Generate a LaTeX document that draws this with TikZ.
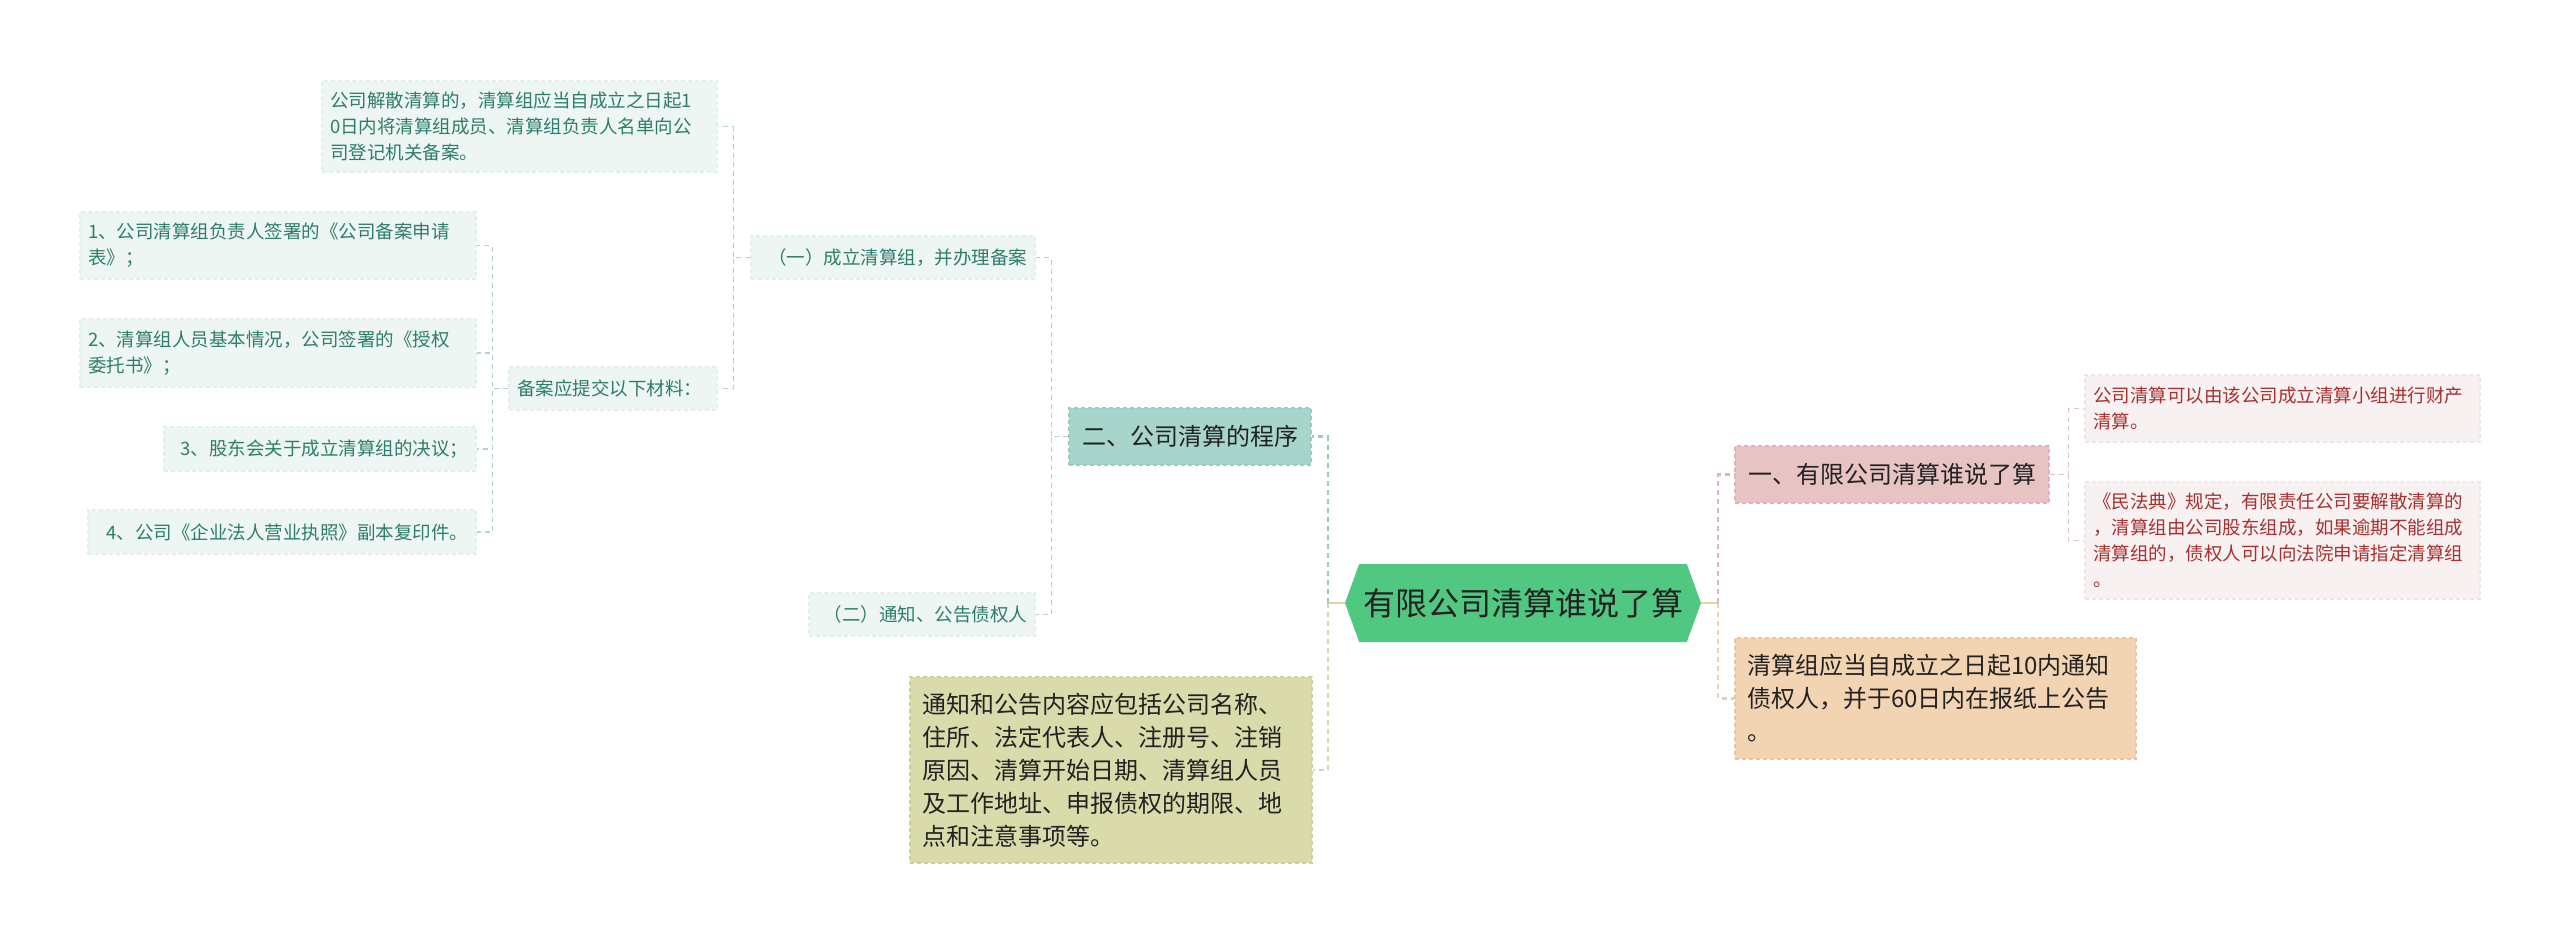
\documentclass[tikz,border=0pt]{standalone}
\usepackage{fontspec}
\setmainfont{Noto Sans CJK SC}
\usetikzlibrary{shapes.symbols}
\definecolor{leaffill}{HTML}{EEF6F4}
\definecolor{leafdraw}{HTML}{E2EFEB}
\definecolor{leaftext}{HTML}{2E7D6C}
\definecolor{leafline}{HTML}{B3D4CC}
\definecolor{tealfill}{HTML}{A8D5CB}
\definecolor{tealdraw}{HTML}{9ACBC0}
\definecolor{tealline}{HTML}{9FC8BF}
\definecolor{olivefill}{HTML}{D9DBAA}
\definecolor{olivedraw}{HTML}{CDD09D}
\definecolor{oliveline}{HTML}{D4D7A6}
\definecolor{rootfill}{HTML}{50C882}
\definecolor{rootline}{HTML}{E3D3A6}
\definecolor{pinkfill}{HTML}{E7C3C4}
\definecolor{pinkdraw}{HTML}{DBB5B7}
\definecolor{pinkline}{HTML}{D8B8BC}
\definecolor{redfill}{HTML}{F8F1F1}
\definecolor{reddraw}{HTML}{F0E4E5}
\definecolor{redtext}{HTML}{A8302F}
\definecolor{redline}{HTML}{DCC3C6}
\definecolor{peachfill}{HTML}{F3D4B2}
\definecolor{peachdraw}{HTML}{E7C5A2}
\definecolor{peachline}{HTML}{EFCFAE}
\definecolor{darktext}{HTML}{222222}

\tikzset{
  box/.style={rectangle, draw, line width=1.2pt, dash pattern=on 4pt off 3pt, inner ysep=0pt},
  leaf/.style={box, fill=leaffill, draw=leafdraw, text=leaftext, inner xsep=8pt, align=left,
    font=\fontsize{18.5}{26}\selectfont},
  redleaf/.style={leaf, fill=redfill, draw=reddraw, text=redtext},
  topic/.style={box, text=darktext, align=center, font=\fontsize{24}{32}\selectfont},
  note/.style={box, text=darktext, inner xsep=12pt, align=left, font=\fontsize{24}{33}\selectfont},
  link/.style={line width=1.5pt, dash pattern=on 5pt off 4pt},
  mainlink/.style={line width=2.5pt, dash pattern=on 5pt off 4pt},
}

\begin{document}
\begin{tikzpicture}[x=1pt,y=-1pt]
\useasboundingbox (0,0) rectangle (2560,943);

\node [signal, signal to=west and east, signal pointer angle=140, fill=rootfill, text=darktext,
  minimum width=356pt, minimum height=78pt, inner sep=0pt, font=\fontsize{32}{38}\selectfont]
  (root) at (1523,603) {有限公司清算谁说了算};

\node [topic, fill=tealfill, draw=tealdraw, minimum width=242pt, minimum height=57pt] (p2) at (1190,436.5) {二、公司清算的程序};
\node [note, fill=olivefill, draw=olivedraw, text width=378pt, minimum height=186pt] (notice) at (1111,770)
  {通知和公告内容应包括公司名称、\\住所、法定代表人、注册号、注销\\原因、清算开始日期、清算组人员\\及工作地址、申报债权的期限、地\\点和注意事项等。};
\node [topic, fill=pinkfill, draw=pinkdraw, minimum width=314pt, minimum height=57pt] (p1) at (1892,474.5) {一、有限公司清算谁说了算};
\node [note, fill=peachfill, draw=peachdraw, text width=377pt, minimum height=121pt] (p3) at (1935.5,698.5)
  {清算组应当自成立之日起10内通知\\债权人，并于60日内在报纸上公告\\。};

\node [leaf, text width=268pt, minimum height=43pt, align=right] (s1) at (893,257.5) {（一）成立清算组，并办理备案};
\node [leaf, text width=210pt, minimum height=43pt, align=right] (s2) at (922,614.5) {（二）通知、公告债权人};
\node [leaf, text width=379pt, minimum height=91pt] (t1) at (519.5,126.5)
  {公司解散清算的，清算组应当自成立之日起1\\0日内将清算组成员、清算组负责人名单向公\\司登记机关备案。};
\node [leaf, text width=192pt, minimum height=43pt] (bei) at (613,388.5) {备案应提交以下材料：};
\node [leaf, text width=380pt, minimum height=67pt] (item1) at (278,245.5) {1、公司清算组负责人签署的《公司备案申请\\表》；};
\node [leaf, text width=380pt, minimum height=68pt] (item2) at (278,353) {2、清算组人员基本情况，公司签署的《授权\\委托书》；};
\node [leaf, text width=296pt, minimum height=44pt, align=right] (item3) at (320,449) {3、股东会关于成立清算组的决议；};
\node [leaf, text width=372pt, minimum height=44pt, align=right] (item4) at (282,532) {4、公司《企业法人营业执照》副本复印件。};

\node [redleaf, text width=379pt, minimum height=67pt] (r1) at (2282.5,408.5) {公司清算可以由该公司成立清算小组进行财产\\清算。};
\node [redleaf, text width=379pt, minimum height=117pt] (r2) at (2282.5,540.5)
  {《民法典》规定，有限责任公司要解散清算的\\，清算组由公司股东组成，如果逾期不能组成\\清算组的，债权人可以向法院申请指定清算组\\。};

\draw [rootline, line width=2.5pt] (root.west) -- ++(-17,0) coordinate (jl);
\draw [rootline, line width=2.5pt] (root.east) -- ++(17,0) coordinate (jr);
\draw [mainlink, tealline] (jl) |- (p2.east);
\draw [mainlink, oliveline] (jl) |- (notice.east);
\draw [mainlink, pinkline] (jr) |- (p1.west);
\draw [mainlink, peachline] (jr) |- (p3.west);

\draw [link, leafline] (p2.west) -- ++(-17,0) |- (s1.east);
\draw [link, leafline] (p2.west) -- ++(-17,0) |- (s2.east);
\draw [link, leafline] (s1.west) -- ++(-17,0) |- (t1.east);
\draw [link, leafline] (s1.west) -- ++(-17,0) |- (bei.east);
\foreach \n in {item1,item2,item3,item4}
  \draw [link, leafline] (bei.west) -- ++(-16,0) |- (\n.east);
\foreach \n in {r1,r2}
  \draw [link, redline] (p1.east) -- ++(19,0) |- (\n.west);
\end{tikzpicture}
\end{document}
